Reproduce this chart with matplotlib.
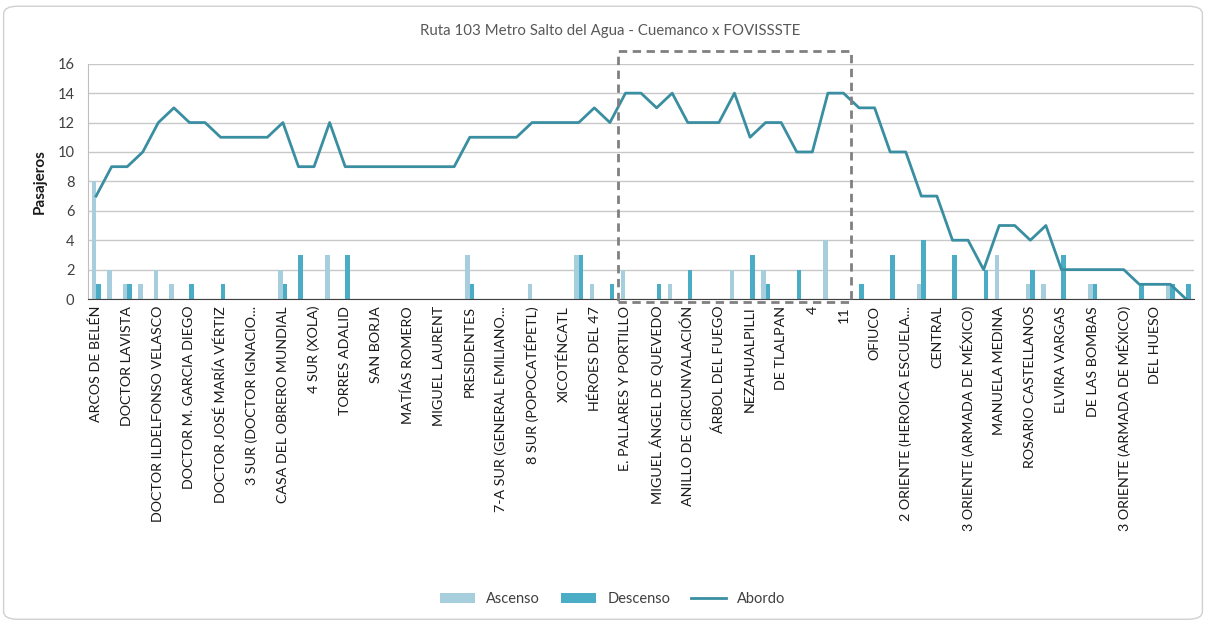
import numpy as np
import matplotlib
matplotlib.use("Agg")
import matplotlib.pyplot as plt
from matplotlib.patches import FancyBboxPatch, Rectangle

plt.rcParams['font.family'] = ['Lato', 'DejaVu Sans']

# stops (only every other one is labelled on the axis)
stop_labels = [
    "ARCOS DE BELÉN", "DOCTOR LAVISTA", "DOCTOR ILDELFONSO VELASCO",
    "DOCTOR M. GARCIA DIEGO", "DOCTOR JOSÉ MARÍA VÉRTIZ", "3 SUR (DOCTOR IGNACIO...",
    "CASA DEL OBRERO MUNDIAL", "4 SUR (XOLA)", "TORRES ADALID", "SAN BORJA",
    "MATÍAS ROMERO", "MIGUEL LAURENT", "PRESIDENTES", "7-A SUR (GENERAL EMILIANO...",
    "8 SUR (POPOCATÉPETL)", "XICOTÉNCATL", "HÉROES DEL 47", "E. PALLARES Y PORTILLO",
    "MIGUEL ÁNGEL DE QUEVEDO", "ANILLO DE CIRCUNVALACIÓN", "ÁRBOL DEL FUEGO",
    "NEZAHUALPILLI", "DE TLALPAN", "4", "11", "OFIUCO", "2 ORIENTE (HEROICA ESCUELA...",
    "CENTRAL", "3 ORIENTE (ARMADA DE MÉXICO)", "MANUELA MEDINA", "ROSARIO CASTELLANOS",
    "ELVIRA VARGAS", "DE LAS BOMBAS", "3 ORIENTE (ARMADA DE MÉXICO)", "DEL HUESO",
]

ascenso = [8, 2, 1, 1, 2, 1, 0, 0, 0, 0,
           0, 0, 2, 0, 0, 3, 0, 0, 0, 0,
           0, 0, 0, 0, 3, 0, 0, 0, 1, 0,
           0, 3, 1, 0, 2, 0, 0, 1, 0, 0,
           0, 2, 0, 2, 0, 0, 0, 4, 0, 0,
           0, 0, 0, 1, 0, 0, 0, 0, 3, 0,
           1, 1, 0, 0, 1, 0, 0, 0, 0, 1,
           0]
descenso = [1, 0, 1, 0, 0, 0, 1, 0, 1, 0,
            0, 0, 1, 3, 0, 0, 3, 0, 0, 0,
            0, 0, 0, 0, 1, 0, 0, 0, 0, 0,
            0, 3, 0, 1, 0, 0, 1, 0, 2, 0,
            0, 0, 3, 1, 0, 2, 0, 0, 0, 1,
            0, 3, 0, 4, 0, 3, 0, 2, 0, 0,
            2, 0, 3, 0, 1, 0, 0, 1, 0, 1,
            1]
abordo = [7, 9, 9, 10, 12, 13, 12, 12, 11, 11,
          11, 11, 12, 9, 9, 12, 9, 9, 9, 9,
          9, 9, 9, 9, 11, 11, 11, 11, 12, 12,
          12, 12, 13, 12, 14, 14, 13, 14, 12, 12,
          12, 14, 11, 12, 12, 10, 10, 14, 14, 13,
          13, 10, 10, 7, 7, 4, 4, 2, 5, 5,
          4, 5, 2, 2, 2, 2, 2, 1, 1, 1,
          0]

c_asc = "#A7CEDC"
c_desc = "#4BACC6"
c_line = "#3A8EA1"

fig = plt.figure(figsize=(12.06, 6.23), dpi=100)
ax = fig.add_axes([0.0732, 0.520, 0.9167, 0.3777])

x = np.arange(len(abordo))
bw = 0.29
b1 = ax.bar(x - bw / 2, ascenso, width=bw, color=c_asc, label="Ascenso", zorder=2)
b2 = ax.bar(x + bw / 2, descenso, width=bw, color=c_desc, label="Descenso", zorder=2)
l1, = ax.plot(x, abordo, color=c_line, lw=2.0, label="Abordo", zorder=3)

ax.set_xlim(-0.5, len(abordo) - 0.5)
ax.set_ylim(0, 16)
ax.set_yticks(range(0, 17, 2))
ax.yaxis.grid(True, color="#C8C8C8", lw=1)
ax.set_axisbelow(True)
ax.set_xticks(x[::2][:len(stop_labels)])
ax.set_xticklabels(stop_labels, rotation=90, fontsize=10.3, color="#1A1A1A")
ax.tick_params(axis="both", length=0)
ax.tick_params(axis="x", pad=5)
ax.tick_params(axis="y", labelsize=10.5, labelcolor="#404040", pad=10)
for s in ["top", "right"]:
    ax.spines[s].set_visible(False)
ax.spines["left"].set_color("#BFBFBF")
ax.spines["bottom"].set_color("#404040")
ax.set_ylabel("Pasajeros", fontsize=11, fontweight="bold", color="#1A1A1A", labelpad=8)

# highlighted section
ax.add_patch(Rectangle((33.54, -0.2), 14.93, 17.07, fill=False, ls=(0, (3, 2)),
                       ec="#808080", lw=2, clip_on=False, zorder=4))

fig.text(0.506, 0.951, "Ruta 103 Metro Salto del Agua - Cuemanco x FOVISSSTE",
         ha="center", va="center", fontsize=10.8, color="#595959")

fig.legend([b1, b2, l1], ["Ascenso", "Descenso", "Abordo"],
           loc="center", bbox_to_anchor=(0.508, 0.0385), ncol=3, frameon=False,
           fontsize=10.5, handlelength=2.4, handleheight=0.6, columnspacing=1.4,
           labelcolor="#404040")

fig.patches.append(FancyBboxPatch((0.003, 0.006), 0.994, 0.984,
                                  boxstyle="round,pad=0,rounding_size=0.012",
                                  transform=fig.transFigure, fill=False,
                                  ec="#D0D0D0", lw=1))

fig.savefig("out.png", dpi=100)
